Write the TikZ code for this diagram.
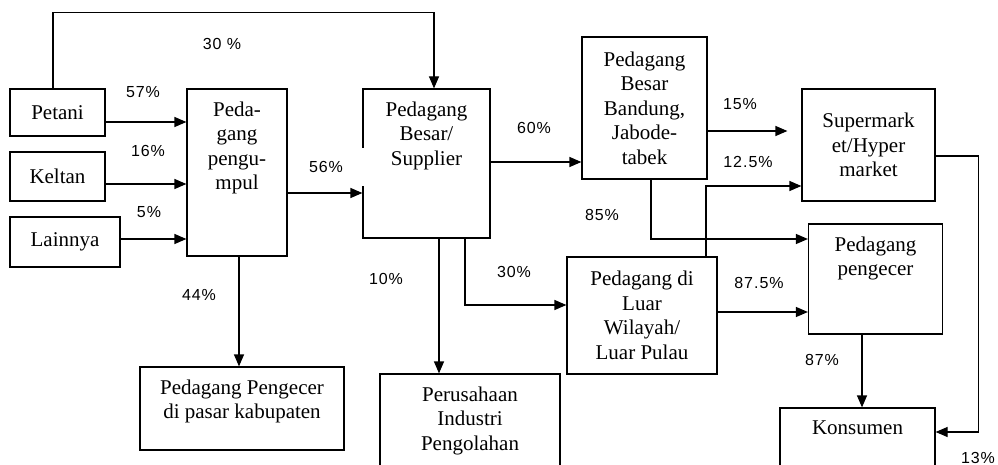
\documentclass[tikz,border=0pt]{standalone}
\usepackage{fontspec}
\setmainfont{Liberation Serif}
\newfontfamily\pctfont[LetterSpace=6]{Liberation Sans}
\usetikzlibrary{arrows.meta, positioning}

\tikzset{
    box/.style={draw, line width=1.2pt, inner sep=0pt, align=center,
        font=\fontsize{21}{24.5}\selectfont},
    intext/.style={anchor=north, yshift=-13pt, inner sep=0pt, align=center,
        font=\fontsize{21}{24.5}\selectfont},
    flow/.style={line width=1.2pt, -{Triangle[length=12pt, width=10pt]}},
    pct/.style={inner sep=0pt, font=\pctfont\fontsize{16}{18}\selectfont},
}

\begin{document}
\begin{tikzpicture}[x=1pt, y=-1pt]
    \useasboundingbox (0,0) rectangle (998,465);

        % --- 产地 ---
        \node[box, minimum width=95pt, minimum height=47pt] (petani) at (57.5,112.5) {Petani};
        \node[box, minimum width=95pt, minimum height=49pt] (keltan) at (57.5,176.5) {Keltan};
        \node[box, minimum width=110pt, minimum height=50pt] (lainnya) at (65,242) {Lainnya};

        % 收购商 / 批发商
        \node[box, minimum width=100pt, minimum height=167pt,
            label={[intext]north:Peda-\\gang\\pengu-\\mpul}] (pengumpul) at (237,172.5) {};
        \node[box, minimum width=127pt, minimum height=149pt,
            label={[intext]north:Pedagang\\Besar/\\Supplier}] (supplier) at (426.5,163.5) {};
        \node[box, minimum width=125pt, minimum height=142pt] (bandung) at (644.5,108)
            {Pedagang\\Besar\\Bandung,\\Jabode-\\tabek};
        \node[box, minimum width=150pt, minimum height=117pt] (luar) at (642,315.5)
            {Pedagang di\\Luar\\Wilayah/\\Luar Pulau};

        % --- 零售 / 终端 ---
        \node[box, minimum width=133pt, minimum height=112pt] (supermarket) at (868.5,145)
            {Supermark\\et/Hyper\\market};
        \node[box, minimum width=134pt, minimum height=110pt,
            label={[intext]north:Pedagang\\pengecer}] (pengecer) at (875.5,279) {};
        \node[box, minimum width=204pt, minimum height=83pt,
            label={[intext]north:Pedagang Pengecer\\di pasar kabupaten}] (kabupaten) at (242,408.5) {};
        \node[box, minimum width=180pt, minimum height=106pt,
            label={[intext]north:Perusahaan\\Industri\\Pengolahan}] (perusahaan) at (470,427) {};
        \node[box, minimum width=155pt, minimum height=72pt,
            label={[intext]north:Konsumen}] (konsumen) at (857.5,444) {};

        % 流向
        \draw[flow] ([xshift=-4.5pt]petani.north) -- ++(0,-76) -| ([xshift=7.5pt]supplier.north);
        \draw[flow] ([yshift=-9.5pt]petani.east) -- ([yshift=-9.5pt]petani.east -| pengumpul.west);
        \draw[flow] ([yshift=-7.5pt]keltan.east) -- ([yshift=-7.5pt]keltan.east -| pengumpul.west);
        \draw[flow] ([yshift=3pt]lainnya.east) -- ([yshift=3pt]lainnya.east -| pengumpul.west);
        \draw[flow] ([yshift=-20.5pt]pengumpul.east) -- ([yshift=-20.5pt]pengumpul.east -| supplier.west);
        \draw[flow] ([xshift=2pt]pengumpul.south) -- ([xshift=2pt]pengumpul.south |- kabupaten.north);

        \draw[flow] ([xshift=12.5pt]supplier.south) -- ([xshift=12.5pt]supplier.south |- perusahaan.north);
        \draw[flow] ([xshift=38.5pt]supplier.south) |- ([yshift=10.5pt]luar.west);
        \draw[flow] ([yshift=1.5pt]supplier.east) -- ([yshift=1.5pt]supplier.east -| bandung.west);

        \draw[flow, shorten >=14pt] ([yshift=-23pt]bandung.east) -- ([yshift=-23pt]bandung.east -| supermarket.west);
        \draw[flow] ([xshift=6.5pt]bandung.south) |- ([yshift=40pt]pengecer.west);
        \draw[flow] ([xshift=64pt]luar.north) |- ([yshift=-41pt]supermarket.west);
        \draw[flow] ([yshift=3.5pt]luar.east) -- ([yshift=3.5pt]luar.east -| pengecer.west);

        \draw[flow] ([xshift=-13.5pt]pengecer.south) -- ([xshift=-13.5pt]pengecer.south |- konsumen.north);
        \draw[flow] ([yshift=-11pt]supermarket.east) -- ++(43,0) |- ([yshift=12pt]konsumen.east);

        % 百分比标注
        \foreach \n/\x/\y/\val in {1/222/44/30 \%, 2/143/92/57\%, 3/148/151/16\%, 4/149/212/5\%,
                5/199/295/44\%, 6/386/279/10\%, 7/514/272/30\%, 8/534/128/60\%,
                9/740/104/15\%, 10/748/162/12.5\%, 11/602/215/85\%, 12/759/283/87.5\%,
                13/822/360/87\%, 14/978/458/13\%}
            \node[pct] (p\n) at (\x,\y) {\val};
        % 56% 的白底框压住了 Supplier 左边框
        \node[pct, fill=white, minimum width=75pt, minimum height=38pt] (p56) at (326,167) {56\%};

    \end{tikzpicture}
\end{document}
